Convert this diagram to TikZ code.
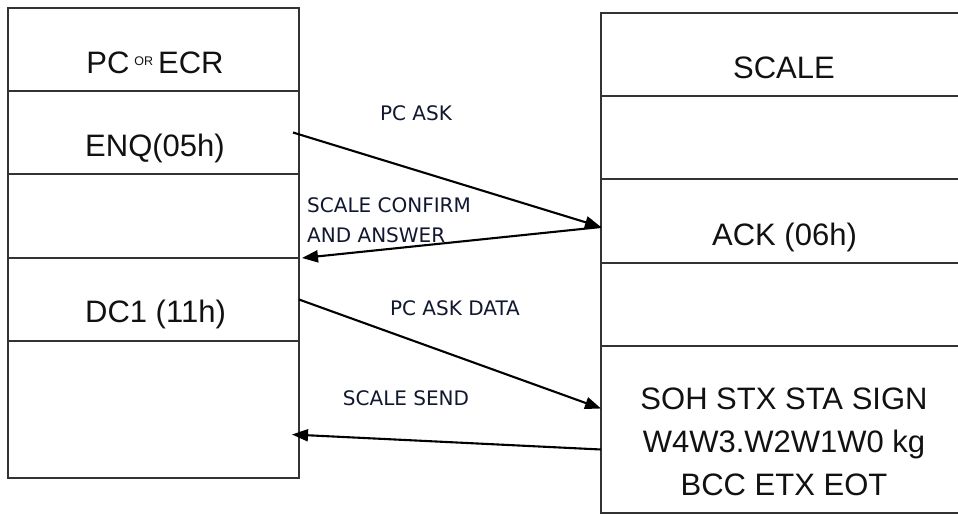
\documentclass[tikz,border=0pt]{standalone}
\usepackage{fontspec}
\setmainfont{Liberation Sans}
\newfontfamily\msgfont{DejaVu Sans}
\usetikzlibrary{arrows.meta,positioning}
\definecolor{PCLine}{HTML}{333333}
\definecolor{PCInk}{HTML}{111111}
\definecolor{PCNavy}{HTML}{10172E}
\tikzset{
  cell/.style={draw=PCLine,line width=1.2pt,inner sep=0pt,outer sep=0pt},
  pccell/.style={cell,minimum width=291pt},
  scalecell/.style={cell,minimum width=364pt},
  celltext/.style={text=PCInk,font=\fontsize{31}{43}\selectfont,inner sep=0pt,align=center},
  msg/.style={text=PCNavy,font=\msgfont\fontsize{20}{30}\selectfont,inner sep=0pt},
  flow/.style={-{Triangle[length=16pt,width=12pt]},black,line width=2.1pt},
}
\begin{document}
\begin{tikzpicture}[x=1pt,y=-1pt]
    \useasboundingbox (0,0) rectangle (958,514);
    % the pc side, one frame per step
    \node[pccell,minimum height=83pt] (pc) at (153.5,49.5) {};
    \node[pccell,minimum height=83pt,below=0pt of pc] (enq) {};
    \node[pccell,minimum height=84pt,below=0pt of enq] (gapa) {};
    \node[pccell,minimum height=83pt,below=0pt of gapa] (dc) {};
    \node[pccell,minimum height=137pt,below=0pt of dc] (gapb) {};
    \node[celltext,anchor=base] (pctxt) at (155,73)
      {PC\hspace{5pt}\raisebox{8pt}{\fontsize{12.5}{14}\selectfont OR}\hspace{5pt}ECR};
    \node[celltext,anchor=base] (enqtxt) at (155,156) {ENQ(05h)};
    \node[celltext,anchor=base] (dctxt) at (155.5,322) {DC1 (11h)};

    % the scale side, runs off the right edge
    \node[scalecell,minimum height=83pt] (scale) at (783,54.5) {};
    \node[scalecell,minimum height=83pt,below=0pt of scale] (gapc) {};
    \node[scalecell,minimum height=84pt,below=0pt of gapc] (ack) {};
    \node[scalecell,minimum height=83pt,below=0pt of ack] (gapd) {};
    \node[scalecell,minimum height=167pt,below=0pt of gapd] (soh) {};
    \node[celltext,anchor=base] (scaletxt) at (784,78) {SCALE};
    \node[celltext,anchor=base] (acktxt) at (784.5,245) {ACK (06h)};
    \node[celltext] (sohtxt) at (784,442)
      {SOH STX STA SIGN\\W4W3.W2W1W0 kg\\BCC ETX EOT};

    % messages
    \coordinate (ackin) at ([yshift=-6pt]ack.west);
    \draw[flow] ([xshift=-6pt]enq.east) -- (ackin);
    \draw[flow] (ackin) -- ([xshift=3pt]dc.north east);
    \draw[flow] (dc.east) -- ([yshift=21pt]soh.west);
    \draw[flow] ([yshift=-20pt]soh.west) -- ([xshift=-7pt,yshift=-25pt]gapb.east);
    \node[msg] (ask) at (416,113) {PC ASK};
    \node[msg,anchor=west,align=left] (confirm) at (307,220) {SCALE CONFIRM\\AND ANSWER};
    \node[msg] (askdata) at (455,308) {PC ASK DATA};
    \node[msg] (send) at (406,398) {SCALE SEND};
  \end{tikzpicture}
\end{document}
